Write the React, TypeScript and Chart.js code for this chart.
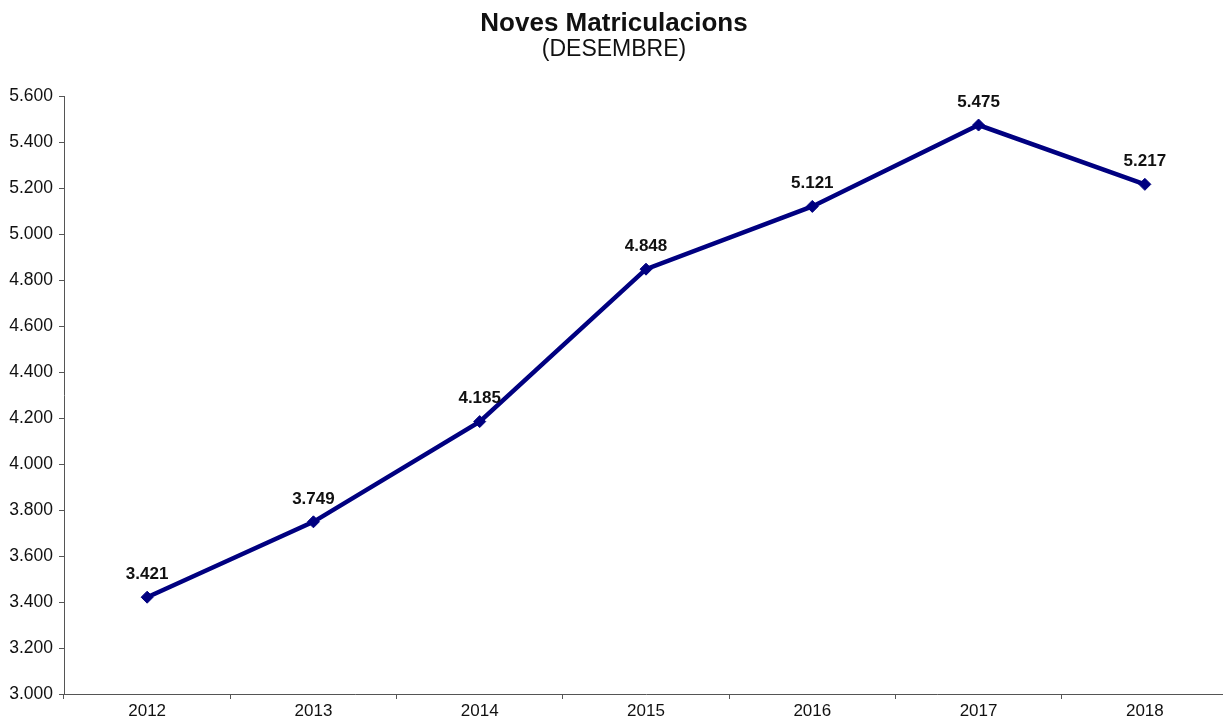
import React, { useEffect, useRef } from "react";
import { Chart, registerables } from "chart.js";

Chart.register(...registerables);

const years = ["2012", "2013", "2014", "2015", "2016", "2017", "2018"];
const registrations = [3421, 3749, 4185, 4848, 5121, 5475, 5217];
const titleText = "Noves Matriculacions";
const subtitleText = "(DESEMBRE)";
const yMin = 3000;
const yMax = 5600;
const yStep = 200;

const fmt = (v: number) => {
  const s = Math.round(v).toString();
  return s.replace(/\B(?=(\d{3})+(?!\d))/g, ".");
};

const FONT = "'Liberation Sans', Arial, sans-serif";

const labelPlugin = {
  id: "pointLabels",
  afterDatasetsDraw(chart: any) {
    const ctx = chart.ctx;
    const meta = chart.getDatasetMeta(0);
    ctx.save();
    ctx.font = `bold 17px ${FONT}`;
    ctx.fillStyle = "#111";
    ctx.textAlign = "center";
    ctx.textBaseline = "middle";
    meta.data.forEach((pt: any, i: number) => {
      const v = chart.data.datasets[0].data[i];
      ctx.fillText(fmt(v), pt.x, pt.y - 23);
    });
    ctx.restore();
  },
};

export default function App() {
  const ref = useRef<HTMLCanvasElement | null>(null);
  useEffect(() => {
    if (!ref.current) return;
    const chart = new Chart(ref.current, {
      type: "line",
      data: {
        labels: years,
        datasets: [
          {
            data: registrations,
            borderColor: "#000080",
            backgroundColor: "#000080",
            borderWidth: 4.5,
            pointStyle: "rectRot",
            pointRadius: 6,
            pointBorderWidth: 1,
            tension: 0,
          },
        ],
      },
      options: {
        animation: false,
        responsive: true,
        maintainAspectRatio: false,
        layout: { autoPadding: false, padding: { left: 0, right: 0, top: 0, bottom: 0 } },
        plugins: {
          legend: { display: false },
          tooltip: { enabled: false },
          title: {
            display: true,
            text: titleText,
            color: "#111",
            font: { family: FONT, size: 26, weight: "bold", lineHeight: 1.0 },
            padding: { top: 11, bottom: 0 },
          },
          subtitle: {
            display: true,
            text: subtitleText,
            color: "#111",
            font: { family: FONT, size: 23, lineHeight: 1.1 },
            padding: { top: 0, bottom: 34 },
          },
        },
        scales: {
          x: {
            type: "category",
            offset: true,
            grid: {
              display: true,
              drawOnChartArea: false,
              drawTicks: true,
              tickLength: 5,
              offset: true,
              color: "#555",
            },
            border: { display: true, color: "#555", width: 1 },
            ticks: {
              color: "#111",
              font: { family: FONT, size: 17 },
              padding: 2,
              maxRotation: 0,
            },
            afterFit: (scale: any) => {
              scale.height = 28;
            },
          },
          y: {
            min: yMin,
            max: yMax,
            grid: {
              display: true,
              drawOnChartArea: false,
              drawTicks: true,
              tickLength: 5,
              color: "#555",
            },
            border: { display: true, color: "#555", width: 1 },
            ticks: {
              stepSize: yStep,
              color: "#111",
              font: { family: FONT, size: 17.5 },
              padding: 6,
              callback: (v: any) => fmt(Number(v)),
            },
            afterFit: (scale: any) => {
              scale.width = 64;
            },
          },
        },
      },
      plugins: [labelPlugin],
    });
    return () => chart.destroy();
  }, []);
  return (
    <div
      style={{
        position: "fixed",
        left: 0,
        top: 0,
        width: 1228,
        height: 722,
        background: "#fff",
      }}
    >
      <canvas ref={ref} />
    </div>
  );
}
